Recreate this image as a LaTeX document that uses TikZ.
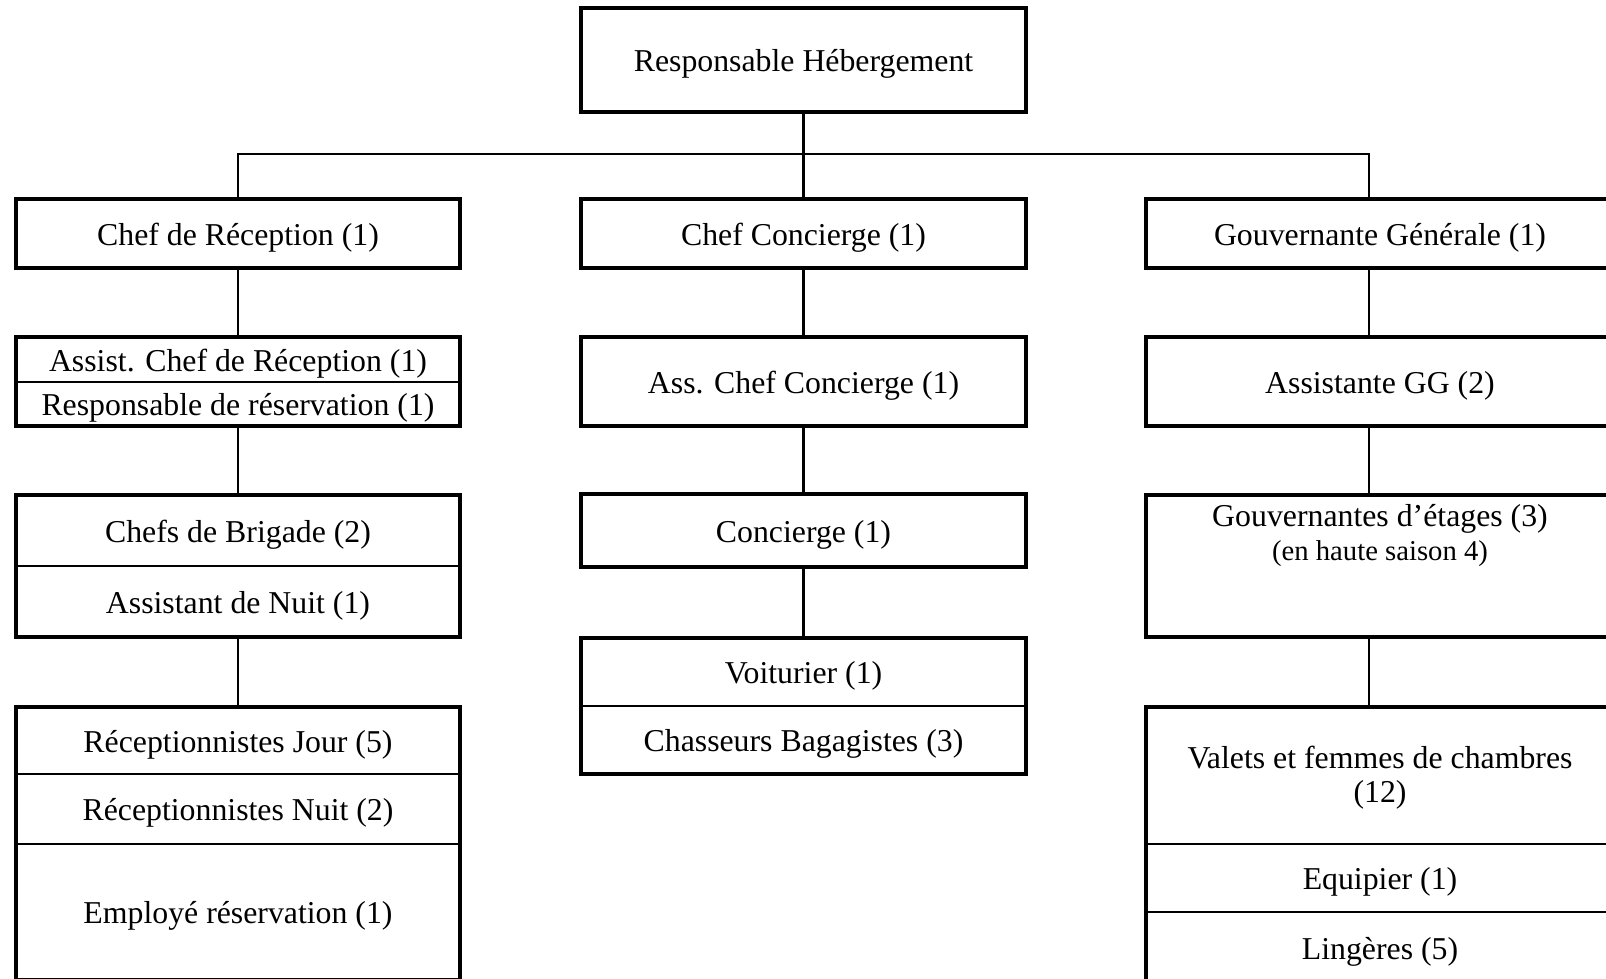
\documentclass[tikz,border=0pt]{standalone}
\usepackage{fontspec}
\setmainfont{Liberation Serif}
\usetikzlibrary{fit}
\begin{document}
\begin{tikzpicture}[x=1pt,y=-1pt,
  cell/.style={rectangle, draw, line width=2.2pt, inner sep=0pt, outer sep=0pt, align=center,
    font=\fontsize{31.8}{33.5}\selectfont, text height=24pt, text depth=0.8pt},
  box/.style={cell, line width=3.2pt},
  frame/.style={rectangle, draw, line width=3.2pt, inner sep=0pt, outer sep=0pt},
  txt/.style={inner sep=0pt, outer sep=0pt, anchor=base},
  conn/.style={line width=2.2pt},
  wl/.style={minimum width=444pt},
  wc/.style={minimum width=445pt},
  wr/.style={minimum width=468pt}]
\useasboundingbox (0,0) rectangle (1606,978);
\fill[white] (0,0) rectangle (1606,978);
\clip (0,0) rectangle (1606,978);

% top
\node[box, wc, minimum height=104pt] (top) at (803.5,60) {Responsable Hébergement};

% level 1
\node[box, wl, minimum height=69pt] (l1) at (238,233.5) {Chef de Réception (1)};
\node[box, wc, minimum height=69pt] (c1) at (803.5,233.5) {Chef Concierge (1)};
\node[box, wr, minimum height=69pt] (r1) at (1380,233.5) {Gouvernante Générale (1)};

% level 2
\node[cell, wl, minimum height=45pt] (l2a) at (238,359.5) {Assist. Chef de Réception (1)};
\node[cell, wl, minimum height=44pt] (l2b) at (238,404) {Responsable de réservation (1)};
\node[frame, fit=(l2a)(l2b)] (l2) {};
\node[box, wc, minimum height=89pt] (c2) at (803.5,381.5) {Ass. Chef Concierge (1)};
\node[box, wr, minimum height=89pt] (r2) at (1380,381.5) {Assistante GG (2)};

% level 3
\node[cell, wl, minimum height=71pt] (l3a) at (238,530.5) {Chefs de Brigade (2)};
\node[cell, wl, minimum height=71pt] (l3b) at (238,601.5) {Assistant de Nuit (1)};
\node[frame, fit=(l3a)(l3b)] (l3) {};
\node[box, wc, minimum height=73pt] (c3) at (803.5,530.5) {Concierge (1)};
\node[box, wr, minimum height=142pt] (r3) at (1380,566) {};
\node[txt, font=\fontsize{31.8}{33.5}\selectfont] (r3t1) at (1380,526) {Gouvernantes d’étages (3)};
\node[txt, font=\fontsize{28.7}{31}\selectfont] (r3t2) at (1380,560) {(en haute saison 4)};

% level 4
\node[cell, wl, minimum height=67pt] (l4a) at (238,740.5) {Réceptionnistes Jour (5)};
\node[cell, wl, minimum height=70pt] (l4b) at (238,809) {Réceptionnistes Nuit (2)};
\node[cell, wl, minimum height=136pt] (l4c) at (238,912) {Employé réservation (1)};
\node[frame, fit=(l4a)(l4b)(l4c)] (l4) {};

\node[cell, wc, minimum height=68pt] (c4a) at (803.5,672) {Voiturier (1)};
\node[cell, wc, minimum height=68pt] (c4b) at (803.5,740) {Chasseurs Bagagistes (3)};
\node[frame, fit=(c4a)(c4b)] (c4) {};

\node[cell, wr, minimum height=137pt] (r4a) at (1380,775.5) {};
\node[inner sep=0pt, align=center, font=\fontsize{31.8}{33.5}\selectfont] (r4t) at (1380,777.5) {Valets et femmes de chambres\\(12)};
\node[cell, wr, minimum height=68pt] (r4b) at (1380,878) {Equipier (1)};
\node[cell, wr, minimum height=71pt] (r4c) at (1380,947.5) {Lingères (5)};
\node[frame, fit=(r4a)(r4b)(r4c)] (r4) {};

% connectors
\coordinate (rj) at (1369,154);
\draw[conn, line width=2.8pt] (top.south) -- (top.south |- rj);
\draw[conn] (top.south |- rj) -- (c1.north);
\draw[conn] (l1.north) |- (rj) -- (rj |- r1.north);

\draw[conn] (l1.south) -- (l2.north);
\draw[conn] (l2.south) -- (l3.north);
\draw[conn] (l3.south) -- (l4.north);

\draw[conn] (c1.south) -- (c2.north);
\draw[conn] (c2.south) -- (c3.north);
\draw[conn] (c3.south) -- (c4.north);

\draw[conn] (rj |- r1.south) -- (rj |- r2.north);
\draw[conn] (rj |- r2.south) -- (rj |- r3.north);
\draw[conn] (rj |- r3.south) -- (rj |- r4.north);
\end{tikzpicture}
\end{document}
